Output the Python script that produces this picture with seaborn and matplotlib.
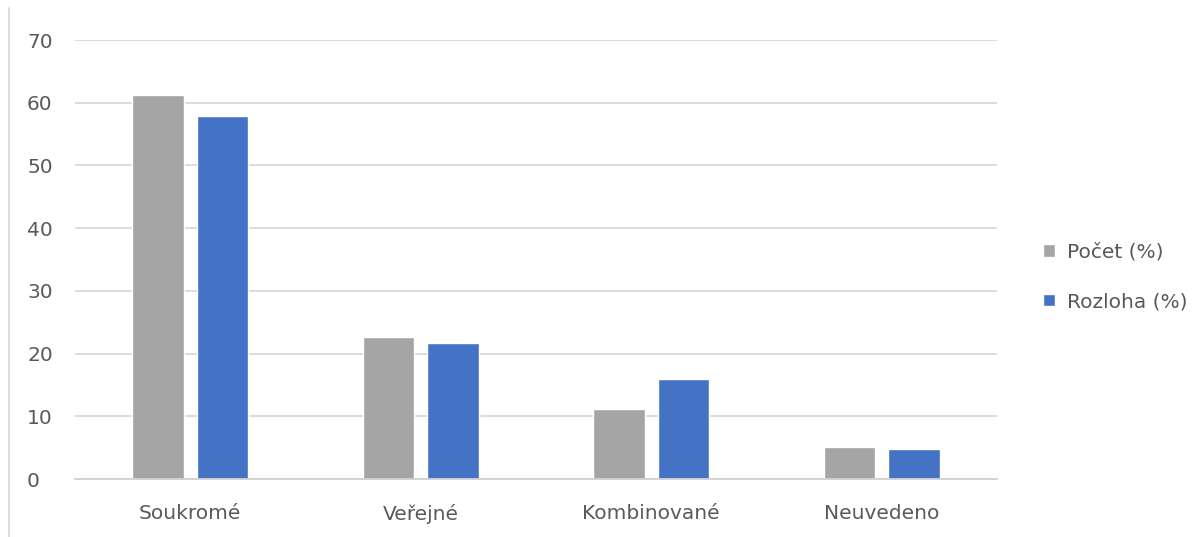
import numpy as np
import matplotlib.pyplot as plt
import seaborn as sns
import pandas as pd
from matplotlib.lines import Line2D

categories = ['Soukromé', 'Veřejné', 'Kombinované', 'Neuvedeno']
pocet = [61.2, 22.6, 11.1, 5.1]
rozloha = [57.9, 21.7, 15.9, 4.8]
series_names = ['Počet (%)', 'Rozloha (%)']

df = pd.DataFrame({
    'kategorie': categories * 2,
    'hodnota': pocet + rozloha,
    'serie': [series_names[0]] * 4 + [series_names[1]] * 4,
})

sns.set_style('white')
plt.rcParams['font.family'] = ['DejaVu Sans']

fig = plt.figure(figsize=(12.03, 5.37), dpi=100)
ax = fig.add_axes([0.0623, 0.108, 0.7665, 0.8175])

sns.barplot(data=df, x='kategorie', y='hodnota', hue='serie',
            palette=['#a5a5a5', '#4472c4'], width=0.56, gap=0.2,
            saturation=1, ax=ax, legend=True)

ax.set_ylim(0, 70)
ax.set_yticks(range(0, 71, 10))
ax.set_xlim(-0.5, 3.5)
ax.grid(axis='y', color='#d9d9d9', linewidth=1.3)
ax.set_axisbelow(True)
for s in ['top', 'right', 'left']:
    ax.spines[s].set_visible(False)
ax.spines['bottom'].set_color('#d0d0d0')
ax.spines['bottom'].set_linewidth(1.3)
ax.set_xlabel('')
ax.set_ylabel('')
ax.tick_params(axis='both', length=0, labelsize=14.5, colors='#595959')
ax.tick_params(axis='x', pad=18)
ax.tick_params(axis='y', pad=34.5)
for lab in ax.get_yticklabels():
    lab.set_horizontalalignment('left')

handles, labels = ax.get_legend_handles_labels()
ax.legend(handles, labels, loc='center left', bbox_to_anchor=(1.03, 0.46),
          frameon=False, fontsize=14.5, labelcolor='#595959',
          handlelength=0.6, handleheight=0.6, handletextpad=0.6,
          labelspacing=1.5)

fig.add_artist(Line2D([0.0075, 0.0075], [0, 0.985], color='#d9d9d9', linewidth=1.3))

fig.savefig('out.png', dpi=100)
